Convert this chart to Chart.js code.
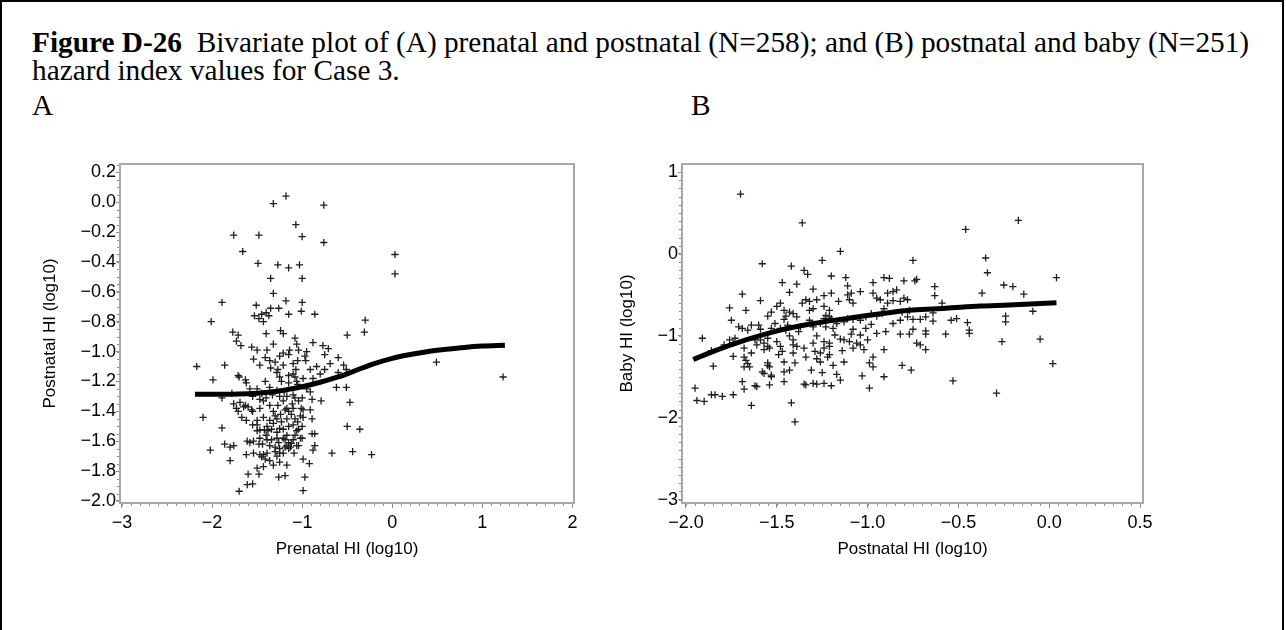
<!DOCTYPE html>
<html>
<head>
<meta charset="utf-8">
<script src="https://cdn.jsdelivr.net/npm/chart.js@4.4.1/dist/chart.umd.min.js"></script>
<style>
  html, body { margin: 0; padding: 0; background: #fff; }
  body { width: 1286px; height: 630px; position: relative; overflow: hidden; }
  .frame { position: absolute; left: 0; top: 0; width: 1280px; height: 700px; border: 2px solid #000; border-bottom: none; }
  .caption { position: absolute; left: 32px; top: 28px; font-family: "Liberation Serif", "Times New Roman", serif; font-size: 29.3px; line-height: 28px; white-space: nowrap; color: #000; }
  .panel { position: absolute; top: 91px; font-family: "Liberation Serif", "Times New Roman", serif; font-size: 29.3px; line-height: 28px; color: #000; }
  canvas { position: absolute; top: 150px; }
</style>
</head>
<body>
<div class="frame"></div>
<div class="caption"><b>Figure D-26</b>&nbsp; Bivariate plot of (A) prenatal and postnatal (N=258); and (B) postnatal and baby (N=251)<br>hazard index values for Case 3.</div>
<div class="panel" style="left:32px">A</div>
<div class="panel" style="left:691px">B</div>
<canvas id="chartA" width="580" height="420" style="left:20px"></canvas>
<canvas id="chartB" width="570" height="420" style="left:600px"></canvas>

<script>
// Panel A: prenatal HI (x) vs postnatal HI (y), log10
const pointsA = [
  [-1.18,0.04],[-1.32,-0.01],[-0.76,-0.02],[-1.07,-0.15],[-1.76,-0.22],[-1.48,-0.22],[-1.00,-0.23],[-0.76,-0.27],[-1.66,-0.33],[0.03,-0.35],
  [-1.49,-0.41],[-1.27,-0.42],[-1.15,-0.44],[-1.03,-0.42],[0.03,-0.48],[-1.35,-0.51],[-1.00,-0.51],[-1.32,-0.61],[-1.89,-0.67],[-1.51,-0.69],
  [-1.18,-0.66],[-1.00,-0.67],[-1.35,-0.71],[-1.26,-0.71],[-1.53,-0.76],[-1.45,-0.75],[-1.48,-0.78],[-1.43,-0.80],[-1.37,-0.76],[-1.40,-0.74],
  [-1.15,-0.75],[-1.01,-0.73],[-0.86,-0.75],[-2.01,-0.80],[-0.30,-0.79],[-1.77,-0.87],[-1.71,-0.89],[-1.40,-0.88],[-1.24,-0.86],[-1.21,-0.88],
  [-1.08,-0.91],[-0.50,-0.89],[-0.31,-0.87],
  [-1.73,-0.93],[-1.68,-0.96],[-1.56,-0.97],[-1.50,-0.99],[-1.39,-0.99],[-1.06,-0.95],[-0.88,-0.94],[-0.77,-0.96],[-0.71,-0.98],[-1.21,-1.01],
  [-1.14,-0.99],[-1.04,-0.99],[-0.95,-1.00],[-1.54,-1.05],[-1.41,-1.04],[-1.36,-1.06],[-1.30,-1.07],[-1.05,-1.06],[-0.96,-1.06],[-0.75,-1.02],
  [-0.60,-1.04],[-2.17,-1.10],[-1.86,-1.09],[-1.47,-1.09],[-1.35,-1.11],[-1.21,-1.09],[-1.27,-1.12],[-1.15,-1.16],[-1.07,-1.12],[-1.08,-1.17],
  [-0.99,-1.18],[-0.91,-1.12],[-0.88,-1.18],[-0.84,-1.10],[-0.75,-1.12],[-0.60,-1.14],[-0.54,-1.09],[-0.51,-1.12],[-1.99,-1.19],[-1.71,-1.16],
  [-1.63,-1.19],[-1.50,-1.25],[-1.41,-1.20],[-1.36,-1.24],[-1.25,-1.17],[-1.15,-1.21],[-0.62,-1.24],[-0.51,-1.24],
  [-1.32,-0.95],[-1.10,-1.08],[-1.28,-1.14],[-1.10,-1.15],[-1.62,-1.21],[-1.06,-1.20],[-1.23,-1.20],[-1.70,-1.17],[-1.25,-1.03],[-1.15,-1.02],
  [-0.97,-1.03],[-0.69,-1.08],[-0.80,-1.15],
  [0.49,-1.07],[1.23,-1.17],[-0.47,-1.34],[-0.50,-1.50],[-0.36,-1.52],[-0.67,-1.68],[-0.44,-1.67],[-0.23,-1.69],[-0.91,-1.27],[-1.00,-1.31],
  [-0.89,-1.32],[-0.79,-1.33],[-0.99,-1.39],[-0.91,-1.39],[-0.89,-1.45],[-0.99,-1.44],[-1.00,-1.50],[-0.89,-1.55],[-0.86,-1.55],[-1.00,-1.58],
  [-0.86,-1.63],[-0.88,-1.66],[-0.99,-1.72],[-0.92,-1.75],[-0.97,-1.84],[-0.99,-1.93],
  [-1.89,-1.31],[-2.10,-1.44],[-1.89,-1.51],[-2.02,-1.66],[-1.80,-1.73],[-1.86,-1.62],[-1.80,-1.64],[-1.76,-1.63],[-1.61,-1.60],[-1.54,-1.60],
  [-1.62,-1.69],[-1.60,-1.82],[-1.48,-1.82],[-1.61,-1.89],[-1.55,-1.885],[-1.70,-1.935],[-1.26,-1.84],[-1.19,-1.83],[-1.17,-1.76],[-1.43,-1.77],
  [-1.78,-1.28],[-1.76,-1.35],[-1.71,-1.40],[-1.67,-1.44],[-1.73,-1.38],[-1.65,-1.37],[-1.56,-1.39],[-1.63,-1.36],[-1.55,-1.49],[-1.50,-1.49],
  [-1.47,-1.525],[-1.42,-1.525],[-1.60,-1.37],[-1.69,-1.34],
  [-1.54,-1.68],[-1.47,-1.69],[-1.45,-1.705],[-1.25,-1.68],[-1.15,-1.65],[-1.30,-1.64],[-1.25,-1.65],[-1.17,-1.63],[-1.58,-1.61],[-1.47,-1.58],
  [-1.39,-1.59],[-1.28,-1.58],[-1.19,-1.59],[-1.12,-1.615],[-1.06,-1.63],
  [-1.43,-1.33],[-1.36,-1.36],[-1.47,-1.38],[-1.32,-1.40],[-1.27,-1.36],[-1.21,-1.33],[-1.17,-1.38],[-1.11,-1.35],[-1.04,-1.33],[-1.01,-1.38],
  [-1.02,-1.43],[-1.08,-1.45],[-1.17,-1.45],[-1.23,-1.47],[-1.28,-1.45],[-1.36,-1.46],[-1.43,-1.44],[-1.39,-1.50],[-1.34,-1.52],[-1.28,-1.54],
  [-1.21,-1.52],[-1.15,-1.50],[-1.10,-1.49],[-1.04,-1.52],[-1.02,-1.58],[-1.10,-1.59],[-1.15,-1.61],[-1.21,-1.58],[-1.34,-1.59],[-1.36,-1.63],
  [-1.19,-1.64],[-1.13,-1.64],[-1.04,-1.63],[-1.43,-1.69],[-1.39,-1.68],[-1.41,-1.72],[-1.36,-1.73],[-1.28,-1.70],[-1.21,-1.68],[-1.25,-1.74],
  [-1.32,-1.76],[-1.50,-1.78],
  [-1.24,-1.42],[-1.15,-1.40],[-1.38,-1.53],[-1.30,-1.67],[-1.05,-1.47],[-1.17,-1.56],[-1.44,-1.62],[-1.09,-1.68],
  [-1.28,-1.26],[-1.20,-1.27],[-1.05,-1.22],[-0.95,-1.25],[-1.45,-1.28],[-1.58,-1.25],[-1.10,-1.29],[-1.33,-1.29],[-1.55,-1.30],[-1.40,-1.31],
  [-1.17,-1.30],
  [-1.47,-1.32],[-1.25,-1.30],[-1.08,-1.31],[-1.55,-1.40],[-1.19,-1.39],[-1.10,-1.38],[-1.62,-1.46],[-1.50,-1.46],[-1.32,-1.48],[-1.50,-1.53],
  [-1.25,-1.515],[-1.06,-1.53],
  [-1.30,-1.43],[-1.12,-1.42],[-1.40,-1.56],[-1.26,-1.61],[-1.08,-1.56],[-1.48,-1.62]
];
const curveAx = [-2.19, -2.0, -1.8, -1.6, -1.4, -1.2, -1.0, -0.8, -0.6, -0.4, -0.2, 0.0, 0.2, 0.4, 0.6, 0.8, 1.0, 1.25];
const curveAy = [-1.285, -1.285, -1.285, -1.282, -1.274, -1.258, -1.235, -1.205, -1.17, -1.125, -1.08, -1.045, -1.02, -1.0, -0.985, -0.972, -0.963, -0.957];
const xTicksA = [-3, -2, -1, 0, 1, 2];
const yTicksA = [0.2, 0, -0.2, -0.4, -0.6, -0.8, -1.0, -1.2, -1.4, -1.6, -1.8, -2.0];

// Panel B: postnatal HI (x) vs baby HI (y), log10
const pointsB = [
  [-1.70,0.73],[-1.36,0.38],[-0.17,0.41],[-0.46,0.30],[0.04,-0.29],[-0.20,-0.40],[-0.14,-0.49],[-0.09,-0.70],[-0.05,-1.04],[0.02,-1.34],
  [-1.15,0.03],[-1.58,-0.12],[-1.42,-0.15],[-1.25,-0.08],[-0.75,-0.08],[-0.35,-0.05],[-0.34,-0.23],[-1.35,-0.20],[-1.33,-0.25],[-1.20,-0.27],
  [-1.12,-0.29],[-1.47,-0.35],[-1.39,-0.37],[-1.30,-0.43],[-1.69,-0.49],[-1.43,-0.47],[-0.97,-0.35],[-0.91,-0.29],[-0.88,-0.30],[-0.80,-0.33],
  [-0.74,-0.33],[-0.73,-0.31],[-0.63,-0.40],[-0.25,-0.38],[-1.11,-0.39],[-1.04,-0.46],[-1.09,-0.48],[-1.11,-0.50],[-1.20,-0.48],[-1.24,-0.51],
  [-1.28,-0.56],[-1.32,-0.58],[-0.97,-0.48],[-0.95,-0.54],[-0.93,-0.56],[-0.89,-0.48],[-0.86,-0.46],[-0.84,-0.44],[-0.82,-0.58],[-0.80,-0.54],
  [-0.78,-0.56],[-0.63,-0.51],[-0.37,-0.48],
  [-1.76,-0.66],[-1.67,-0.69],[-1.75,-0.81],[-1.59,-0.57],[-1.55,-0.76],[-1.53,-0.71],[-1.50,-0.64],[-1.48,-0.60],[-1.46,-0.69],[-1.45,-0.76],
  [-1.46,-0.80],[-1.43,-0.71],[-1.41,-0.73],[-1.39,-0.77],[-1.36,-0.60],[-1.34,-0.56],[-1.32,-0.69],[-1.30,-0.67],
  [-1.24,-0.64],[-1.23,-0.75],[-1.21,-0.69],[-1.20,-0.79],[-1.16,-0.58],[-1.10,-0.56],[-1.08,-0.60],
  [-1.08,-0.80],[-1.04,-0.81],[-1.01,-0.77],[-0.98,-0.73],[-0.95,-0.76],[-0.92,-0.73],[-0.91,-0.67],[-0.89,-0.60],[-0.86,-0.57],
  [-0.81,-0.71],[-0.77,-0.69],[-0.75,-0.80],[-0.71,-0.80],[-0.68,-0.77],[-0.64,-0.72],[-0.54,-0.81],[-0.51,-0.79],[-0.45,-0.84],[-0.44,-0.93],
  [-0.44,-0.97],[-0.24,-0.76],[-0.24,-0.83],[-0.26,-1.07],[-0.29,-1.70],[-0.53,-1.55],[-0.76,-1.42],
  [-0.68,-0.94],[-0.68,-0.98],[-0.73,-1.09],[-0.71,-1.11],[-0.68,-1.17],[-0.57,-0.98],[-0.82,-0.98],[-0.77,-0.98],[-0.75,-0.92],[-0.90,-0.95],
  [-0.91,-1.17],[-0.91,-1.50],[-0.99,-1.64],[-1.03,-1.49],[-0.99,-1.33],[-0.97,-1.38],[-0.97,-1.26],[-1.04,-1.11],[-1.02,-1.17],[-1.08,-1.15],
  [-1.06,-1.09],[-1.09,-0.98],[-1.04,-0.99],[-1.15,-1.04],[-1.13,-1.05],
  [-1.10,-1.07],[-1.19,-0.91],[-1.18,-0.99],[-1.21,-1.09],[-1.21,-1.13],[-1.14,-1.18],[-1.13,-1.32],[-1.22,-1.26],[-1.21,-1.23],[-1.26,-1.21],
  [-1.24,-1.07],[-1.24,-1.15],[-1.25,-1.45],[-1.26,-1.32],[-1.17,-1.47],[-1.15,-1.54],[-1.20,-1.61],[-1.28,-1.00],[-1.30,-1.09],[-1.29,-1.19],
  [-1.28,-1.28],[-1.24,-1.58],[-1.28,-1.59],[-1.30,-1.58],[-1.34,-1.60],[-1.35,-1.59],[-1.35,-1.15],[-1.39,-1.13],[-1.41,-1.11],[-1.38,-0.95],
  [-1.37,-0.89],[-1.45,-0.93],[-1.43,-1.00],[-1.41,-1.05],[-1.48,-1.13],[-1.47,-1.19],[-1.49,-1.23],[-1.46,-1.32],[-1.41,-1.21],[-1.40,-1.33],
  [-1.43,-1.42],[-1.46,-1.44],[-1.46,-1.56],[-1.54,-1.60],[-1.53,-1.50],[-1.55,-1.13],[-1.54,-1.15],[-1.57,-1.17],[-1.59,-1.05],[-1.57,-1.09],
  [-1.55,-1.03],[-1.55,-1.33],[-1.55,-1.36],[-1.54,-1.38],[-1.57,-1.46],[-1.53,-1.48],
  [-1.67,-1.30],[-1.66,-1.34],[-1.65,-1.38],[-1.68,-1.38],[-1.68,-1.26],[-1.64,-1.21],[-1.58,-1.44],[-1.69,-1.56],[-1.68,-1.65],[-1.62,-1.61],
  [-1.61,-1.62],[-1.74,-1.25],[-1.85,-1.37],[-1.86,-1.18],[-1.79,-1.11],[-1.91,-1.03],[-1.95,-1.64],[-1.94,-1.79],[-1.90,-1.80],[-1.86,-1.72],
  [-1.84,-1.72],[-1.80,-1.74],[-1.74,-1.72],[-1.64,-1.85],[-1.42,-1.82],[-1.40,-2.05],
  [-1.71,-0.89],[-1.69,-0.91],[-1.64,-0.87],[-1.60,-0.87],[-1.59,-0.92],[-1.66,-0.93],[-1.53,-0.91],[-1.51,-0.85],[-1.48,-0.91],
  [-1.73,-1.03],[-1.74,-1.09],[-1.76,-1.05],[-1.62,-1.05],[-1.61,-1.11],[-1.50,-1.07],[-1.68,-1.15],
  [-1.44,-0.87],
  [-1.32,-0.81],[-1.30,-0.89],[-1.26,-0.85],[-1.24,-0.79],[-1.23,-0.89],[-1.21,-0.77],[-1.17,-0.85],[-1.13,-0.83],[-1.11,-0.79],[-1.01,-0.91],
  [-0.98,-0.86],[-0.95,-0.97],[-1.08,-0.92],[-0.86,-0.85],[-0.82,-0.81],[-0.78,-0.77],[-0.64,-0.82],[-0.81,-1.36],
  [-1.19,-1.36],[-1.34,-1.26],[-1.31,-1.42],
  [-1.00,-1.05],[-0.59,-0.60]
];
const curveBx = [-1.96, -1.85, -1.67, -1.48, -1.30, -1.12, -0.93, -0.75, -0.57, -0.38, -0.22, 0.04];
const curveBy = [-1.29, -1.19, -1.05, -0.93, -0.85, -0.79, -0.73, -0.685, -0.664, -0.636, -0.624, -0.596];
const xTicksB = [-2.0, -1.5, -1.0, -0.5, 0, 0.5];
const yTicksB = [1, 0, -1, -2, -3];

const FONT = '"Liberation Sans", Arial, Helvetica, sans-serif';
const AXIS_GREY = '#8c8c8c';

function fmt(v, digits) {
  const s = Math.abs(v).toFixed(digits);
  return (v < -1e-9 ? '\u2212' : '') + s;
}

// gray frame around the plot area plus the small minor ticks SAS draws
const frameAndMinor = {
  id: 'frameAndMinor',
  afterDraw(chart, args, opts) {
    const { ctx, chartArea: a, scales } = chart;
    ctx.save();
    ctx.strokeStyle = AXIS_GREY;
    ctx.lineWidth = 1;
    ctx.beginPath();
    ['x', 'y'].forEach(id => {
      const s = scales[id];
      const step = opts[id];
      const first = Math.ceil(s.min / step - 1e-6);
      const last = Math.floor(s.max / step + 1e-6);
      for (let i = first; i <= last; i++) {
        const p = Math.round(s.getPixelForValue(i * step)) + 0.5;
        if (id === 'x') {
          ctx.moveTo(p, a.bottom);
          ctx.lineTo(p, a.bottom + 3);
        } else {
          ctx.moveTo(a.left, p);
          ctx.lineTo(a.left - 3, p);
        }
      }
    });
    ctx.stroke();
    ctx.strokeStyle = '#a8a8a8';
    ctx.lineWidth = 2;
    ctx.strokeRect(a.left, a.top, a.right - a.left, a.bottom - a.top);
    ctx.restore();
  }
};

function axis(opts) {
  const isX = opts.axis === 'x';
  return {
    type: 'linear',
    min: opts.min,
    max: opts.max,
    afterBuildTicks: s => { s.ticks = opts.ticks.map(v => ({ value: v })); },
    afterFit: s => { if (isX) s.height = 67; else s.width = opts.width; },
    ticks: {
      autoSkip: false,
      maxRotation: 0,
      padding: isX ? 4 : 0,
      color: '#000',
      font: { family: FONT, size: 18 },
      callback: v => fmt(v, opts.digits)
    },
    grid: { drawOnChartArea: false, drawTicks: true, tickLength: isX ? 5 : 4, tickColor: AXIS_GREY, color: AXIS_GREY },
    border: { display: false },
    title: {
      display: true,
      text: opts.title,
      color: '#000',
      font: { family: FONT, size: 17 },
      padding: isX ? { top: 0, bottom: 10.8 } : { top: opts.titlePad, bottom: 0 }
    }
  };
}

function makeChart(id, points, cx, cy, scales, minor) {
  return new Chart(document.getElementById(id), {
    type: 'scatter',
    data: {
      datasets: [
        {
          type: 'line',
          data: cx.map((x, i) => ({ x: x, y: cy[i] })),
          borderColor: '#000',
          borderWidth: 5,
          pointRadius: 0,
          cubicInterpolationMode: 'monotone',
          fill: false,
          order: 0
        },
        {
          data: points.map(p => ({ x: p[0], y: p[1] })),
          pointStyle: 'cross',
          pointRadius: 3.6,
          pointBorderWidth: 1.3,
          borderColor: '#1e1e1e',
          backgroundColor: '#1e1e1e',
          order: 1
        }
      ]
    },
    options: {
      responsive: false,
      animation: false,
      events: [],
      layout: { padding: { top: 14, right: scales.padRight, bottom: 0, left: 0 } },
      plugins: {
        legend: { display: false },
        tooltip: { enabled: false },
        frameAndMinor: minor
      },
      scales: { x: scales.x, y: scales.y }
    },
    plugins: [frameAndMinor]
  });
}

makeChart('chartA', pointsA, curveAx, curveAy, {
  padRight: 26,
  x: axis({ axis: 'x', min: -3.022, max: 2.017, ticks: xTicksA, digits: 0, title: 'Prenatal HI (log10)' }),
  y: axis({ axis: 'y', min: -2.0135, max: 0.2556, ticks: yTicksA, digits: 1, width: 100, titlePad: 19.8, title: 'Postnatal HI (log10)' })
}, { x: 0.1, y: 0.05 });

makeChart('chartB', pointsB, curveBx, curveBy, {
  padRight: 27,
  x: axis({ axis: 'x', min: -2.022, max: 0.5165, ticks: xTicksB, digits: 1, title: 'Postnatal HI (log10)' }),
  y: axis({ axis: 'y', min: -3.0415, max: 1.0977, ticks: yTicksB, digits: 0, width: 82, titlePad: 16.8, title: 'Baby HI (log10)' })
}, { x: 0.05, y: 0.1 });
</script>
</body>
</html>
